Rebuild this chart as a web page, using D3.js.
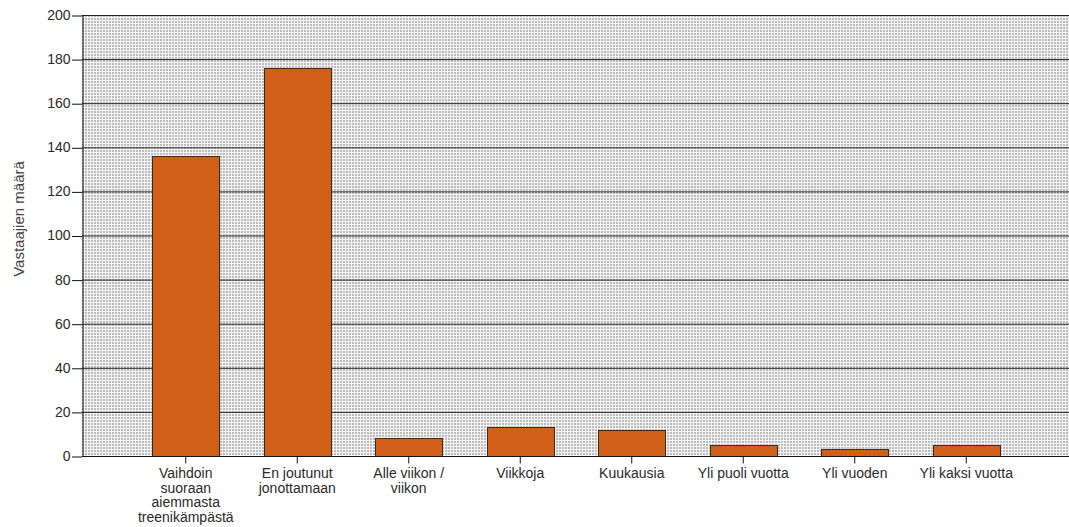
<!DOCTYPE html>
<title>Vastaajien määrä</title>
<style>
body { margin: 0; background: #fff; }
svg { display: block; font-family: "Liberation Sans", Arial, sans-serif; }
.axis .domain { stroke: #111; }
.axis .tick line { stroke: #111; }
.axis .tick text { fill: #2a2a2a; font-size: 14px; }
</style>
<svg width="1069" height="527"></svg>
<script src="https://d3js.org/d3.v7.min.js"></script>
<script>
var categories = ["Vaihdoin suoraan aiemmasta treenikämpästä", "En joutunut jonottamaan", "Alle viikon / viikon",
  "Viikkoja", "Kuukausia", "Yli puoli vuotta", "Yli vuoden", "Yli kaksi vuotta"];
var counts = [136, 176, 8, 13, 12, 5, 3, 5];
var yTicks = [0, 20, 40, 60, 80, 100, 120, 140, 160, 180, 200];

var svg = d3.select("svg"),
    margin = {top: 15, right: 0, bottom: 71, left: 82},
    width = +svg.attr("width") - margin.left - margin.right,
    height = +svg.attr("height") - margin.top - margin.bottom,
    g = svg.append("g").attr("transform", "translate(" + margin.left + "," + margin.top + ")");

// dotted background
var pat = svg.append("defs").append("pattern")
    .attr("id", "dots")
    .attr("patternUnits", "userSpaceOnUse")
    .attr("width", 3).attr("height", 3);
pat.append("rect").attr("width", 3).attr("height", 3).attr("fill", "#f3f3f3");
pat.append("rect").attr("width", 2).attr("height", 2).attr("fill", "#bcbcbc");

var x = d3.scaleBand()
    .domain(categories)
    .range([48, width - 47])
    .paddingInner(0.4)
    .paddingOuter(0.2);

var y = d3.scaleLinear()
    .domain([0, 200])
    .range([height, 0]);

g.append("rect")
    .attr("width", width)
    .attr("height", height)
    .attr("fill", "url(#dots)");

// grid lines
g.append("g")
  .selectAll("line")
  .data(yTicks.slice(1))
  .enter().append("line")
    .attr("x1", 0).attr("x2", width)
    .attr("y1", function(d) { return y(d) + 0.5; })
    .attr("y2", function(d) { return y(d) + 0.5; })
    .attr("stroke", "#222");

g.append("g")
  .selectAll("rect")
  .data(counts)
  .enter().append("rect")
    .attr("x", function(d, i) { return Math.round(x(categories[i])) + 0.5; })
    .attr("y", function(d) { return Math.round(y(d)) + 0.5; })
    .attr("width", Math.round(x.bandwidth()))
    .attr("height", function(d) { return Math.round(y(0)) - Math.round(y(d)); })
    .attr("fill", "#d25f17")
    .attr("stroke", "#3a2a20");

g.append("g")
    .attr("class", "axis y")
    .attr("transform", "translate(0.5,0)")
    .call(d3.axisLeft(y).tickValues(yTicks).tickSize(10).tickPadding(2).tickSizeOuter(0))
    .selectAll(".tick line").attr("transform", "translate(-0.5,0.5)");

var xa = g.append("g")
    .attr("class", "axis x")
    .attr("transform", "translate(0," + (height + 0.5) + ")")
    .call(d3.axisBottom(x).tickSize(7).tickPadding(6).tickSizeOuter(0));
xa.select(".domain").attr("d", "M0,0H" + width);
xa.selectAll(".tick text").call(wrap, 100);

function wrap(text, w) {
  text.each(function() {
    var t = d3.select(this),
        words = t.text().split(/\s+/),
        line = [], lines = [];
    t.text(null);
    var probe = t.append("tspan");
    words.forEach(function(word) {
      line.push(word);
      probe.text(line.join(" "));
      if (probe.node().getComputedTextLength() > w && line.length > 1) {
        line.pop();
        lines.push(line.join(" "));
        line = [word];
      }
    });
    lines.push(line.join(" "));
    probe.remove();
    var y0 = +t.attr("y");
    lines.forEach(function(l, i) {
      t.append("tspan").attr("x", 0).attr("y", y0).attr("dy", (0.6 + i * 1.05) + "em").text(l);
    });
  });
}

svg.append("text")
    .attr("transform", "translate(24,219) rotate(-90)")
    .attr("text-anchor", "middle")
    .attr("fill", "#444")
    .attr("font-size", 15)
    .text("Vastaajien määrä");
</script>
